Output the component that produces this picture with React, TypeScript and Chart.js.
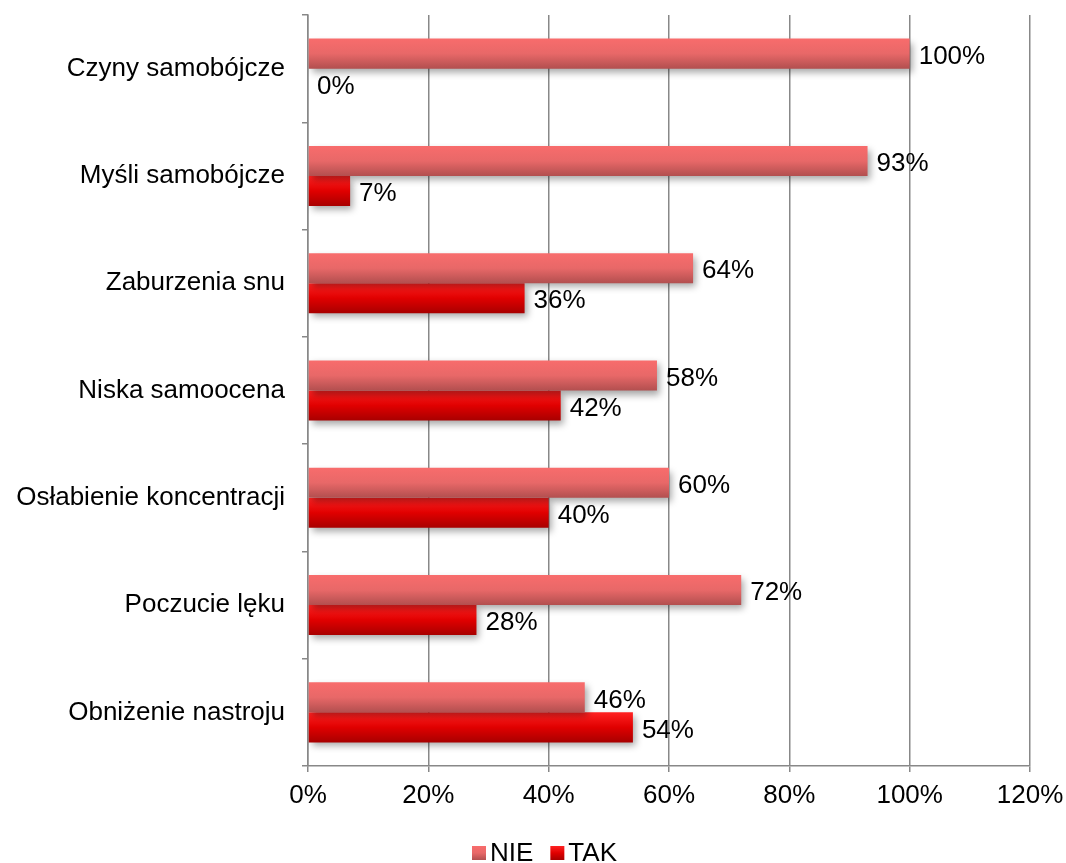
import React, { useEffect, useRef } from "react";
import { Chart, registerables } from "chart.js";

Chart.register(...registerables);

const categories = [
  "Czyny samobójcze",
  "Myśli samobójcze",
  "Zaburzenia snu",
  "Niska samoocena",
  "Osłabienie koncentracji",
  "Poczucie lęku",
  "Obniżenie nastroju",
];
const seriesNames = ["NIE", "TAK"];
const nieValues = [100, 93, 64, 58, 60, 72, 46];
const takValues = [0, 7, 36, 42, 40, 28, 54];
const xTicks = [0, 20, 40, 60, 80, 100, 120];

const FONT = "'Liberation Sans', Arial, sans-serif";
const FS = 26;
const GRID = "#888888";

const gradientStops: string[][] = [
  ["#f86c6c", "#e86868", "#b24f4f"],
  ["#ff2222", "#e00000", "#a80000"],
];

function makeGradient(ctx: CanvasRenderingContext2D, top: number, bottom: number, stops: string[]) {
  const g = ctx.createLinearGradient(0, top, 0, bottom);
  g.addColorStop(0, stops[0]);
  g.addColorStop(0.5, stops[1]);
  g.addColorStop(1, stops[2]);
  return g;
}

const barStylePlugin = {
  id: "barStyle",
  beforeDatasetsDraw(chart: any) {
    const ctx = chart.ctx;
    chart.data.datasets.forEach((_ds: any, di: number) => {
      const meta = chart.getDatasetMeta(di);
      meta.data.forEach((el: any) => {
        const { y, height } = el.getProps(["y", "height"], true);
        const g = makeGradient(ctx, y - height / 2, y + height / 2, gradientStops[di]);
        el.options = Object.assign({}, el.options, { backgroundColor: g });
      });
    });
    ctx.save();
    ctx.shadowColor = "rgba(0,0,0,0.35)";
    ctx.shadowBlur = 7;
    ctx.shadowOffsetX = 3;
    ctx.shadowOffsetY = 4;
  },
  afterDatasetsDraw(chart: any) {
    const ctx = chart.ctx;
    ctx.restore();
    ctx.save();
    ctx.font = `${FS}px ${FONT}`;
    ctx.fillStyle = "#000";
    ctx.textAlign = "left";
    ctx.textBaseline = "middle";
    chart.data.datasets.forEach((ds: any, di: number) => {
      const meta = chart.getDatasetMeta(di);
      meta.data.forEach((el: any, i: number) => {
        const { x, y } = el.getProps(["x", "y"], true);
        ctx.fillText(`${ds.data[i]}%`, x + 9, y + 3);
      });
    });
    ctx.restore();
  },
  afterDraw(chart: any) {
    const ctx = chart.ctx;
    ctx.save();
    ctx.font = `${FS}px ${FONT}`;
    ctx.textBaseline = "middle";
    ctx.textAlign = "left";
    const box = 14;
    const cy = 853;
    let x = 472;
    chart.data.datasets.forEach((ds: any, di: number) => {
      ctx.fillStyle = makeGradient(ctx, cy - box / 2, cy + box / 2, gradientStops[di]);
      ctx.fillRect(x, cy - box / 2, box, box);
      ctx.fillStyle = "#000";
      ctx.fillText(ds.label, x + box + 4, cy + 1);
      x += box + 4 + ctx.measureText(ds.label).width + 17;
    });
    ctx.restore();
  },
};

export default function App() {
  const ref = useRef<HTMLCanvasElement | null>(null);
  useEffect(() => {
    if (!ref.current) return;
    const chart = new Chart(ref.current, {
      type: "bar",
      data: {
        labels: categories,
        datasets: [
          { label: seriesNames[0], data: nieValues, backgroundColor: gradientStops[0][1] },
          { label: seriesNames[1], data: takValues, backgroundColor: gradientStops[1][1] },
        ],
      },
      options: {
        indexAxis: "y",
        responsive: false,
        animation: false,
        layout: { padding: { top: 15, right: 36, left: 0, bottom: 0 } },
        datasets: { bar: { categoryPercentage: 0.56, barPercentage: 1.0 } },
        plugins: { legend: { display: false }, tooltip: { enabled: false } },
        scales: {
          x: {
            min: 0,
            max: 120,
            afterBuildTicks: (s: any) => {
              s.ticks = xTicks.map((v) => ({ value: v }));
            },
            afterFit: (s: any) => {
              s.height = 97;
              s.paddingLeft = 0;
              s.paddingRight = 0;
            },
            ticks: {
              callback: (v: any) => `${v}%`,
              color: "#000",
              font: { family: FONT, size: FS },
              padding: 8,
              maxRotation: 0,
            },
            grid: { color: GRID, lineWidth: 1.5, tickLength: 6, drawTicks: true },
            border: { color: GRID, width: 1.5 },
          },
          y: {
            afterFit: (s: any) => {
              s.width = 308;
              s.paddingTop = 0;
              s.paddingBottom = 0;
            },
            ticks: {
              color: "#000",
              font: { family: FONT, size: FS },
              padding: 17,
            },
            grid: { display: true, drawOnChartArea: false, offset: true, color: GRID, lineWidth: 1.5, tickLength: 6 },
            border: { color: GRID, width: 1.5 },
          },
        },
      },
      plugins: [barStylePlugin],
    } as any);
    return () => chart.destroy();
  }, []);
  return (
    <div style={{ position: "fixed", left: 0, top: 0, width: 1066, height: 863, background: "#fff" }}>
      <canvas ref={ref} width={1066} height={863} style={{ display: "block" }} />
    </div>
  );
}
